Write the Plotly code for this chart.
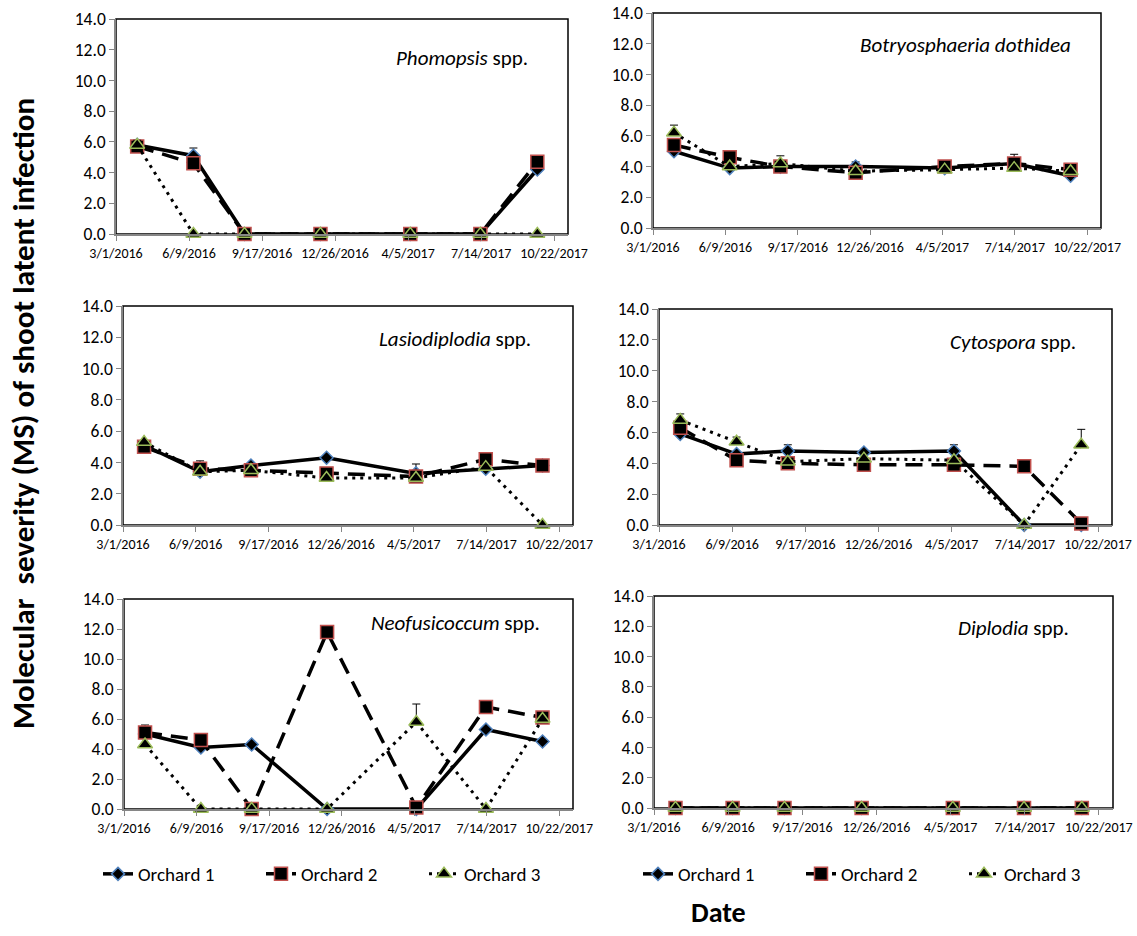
import plotly.graph_objects as go

# ---------------- data ----------------
sample_dates = ["2016-03-30", "2016-06-15", "2016-08-24", "2016-12-06",
                "2017-04-08", "2017-07-13", "2017-09-29"]
tick_start = "2016-03-01"
axis_end = "2017-11-10"
y_tick_values = [0, 2, 4, 6, 8, 10, 12, 14]
series_names = ["Orchard 1", "Orchard 2", "Orchard 3"]
panel_labels = ["<i>Phomopsis</i> spp.", "<i>Botryosphaeria dothidea</i>",
                "<i>Lasiodiplodia</i> spp.", "<i>Cytospora</i> spp.",
                "<i>Neofusicoccum</i> spp.", "<i>Diplodia</i> spp."]

phomopsis_o1 = [5.8, 5.1, 0.0, 0.0, 0.0, 0.0, 4.2]
phomopsis_o2 = [5.7, 4.6, 0.0, 0.0, 0.0, 0.0, 4.7]
phomopsis_o3 = [5.8, 0.0, 0.0, 0.0, 0.0, 0.0, 0.0]
phomopsis_o1_err = [0.3, 0.5, None, None, None, None, None]
phomopsis_o2_err = [None, None, None, None, None, None, None]
phomopsis_o3_err = [0.3, None, None, None, None, None, None]

botryo_o1 = [5.0, 3.9, 4.0, 4.0, 3.9, 4.2, 3.4]
botryo_o2 = [5.4, 4.6, 4.0, 3.6, 4.0, 4.2, 3.8]
botryo_o3 = [6.2, 4.0, 4.2, 3.7, 3.8, 3.9, 3.7]
botryo_o1_err = [None, None, None, 0.3, None, None, None]
botryo_o2_err = [None, None, None, None, None, 0.6, None]
botryo_o3_err = [0.5, None, 0.5, None, None, None, None]

lasio_o1 = [5.1, 3.4, 3.8, 4.3, 3.3, 3.6, 3.8]
lasio_o2 = [5.0, 3.6, 3.5, 3.3, 3.1, 4.2, 3.8]
lasio_o3 = [5.3, 3.4, 3.5, 3.0, 3.0, 3.7, 0.0]
lasio_o1_err = [None, None, None, None, 0.6, None, None]
lasio_o2_err = [0.3, 0.5, None, None, None, None, None]
lasio_o3_err = [None, None, None, None, None, None, None]

cyto_o1 = [5.9, 4.6, 4.8, 4.7, 4.8, 0.0, 0.0]
cyto_o2 = [6.3, 4.2, 4.0, 3.9, 3.9, 3.8, 0.1]
cyto_o3 = [6.8, 5.4, 4.1, 4.3, 4.2, 0.0, 5.2]
cyto_o1_err = [None, None, 0.4, None, 0.4, None, None]
cyto_o2_err = [None, None, None, None, None, None, None]
cyto_o3_err = [0.4, 0.3, None, None, None, None, 1.0]

neo_o1 = [5.0, 4.1, 4.3, 0.0, 0.0, 5.3, 4.5]
neo_o2 = [5.1, 4.6, 0.0, 11.8, 0.1, 6.8, 6.1]
neo_o3 = [4.3, 0.0, 0.0, 0.0, 5.8, 0.0, 6.0]
neo_o1_err = [0.6, None, None, None, None, None, None]
neo_o2_err = [None, None, None, None, None, None, None]
neo_o3_err = [None, None, None, None, 1.2, None, None]

diplodia_o1 = [0.0, 0.0, 0.0, 0.0, 0.0, 0.0, 0.0]
diplodia_o2 = [0.0, 0.0, 0.0, 0.0, 0.0, 0.0, 0.0]
diplodia_o3 = [0.0, 0.0, 0.0, 0.0, 0.0, 0.0, 0.0]
diplodia_err = [None, None, None, None, None, None, None]

panel_series = [
    [(phomopsis_o1, phomopsis_o1_err), (phomopsis_o2, phomopsis_o2_err), (phomopsis_o3, phomopsis_o3_err)],
    [(botryo_o1, botryo_o1_err), (botryo_o2, botryo_o2_err), (botryo_o3, botryo_o3_err)],
    [(lasio_o1, lasio_o1_err), (lasio_o2, lasio_o2_err), (lasio_o3, lasio_o3_err)],
    [(cyto_o1, cyto_o1_err), (cyto_o2, cyto_o2_err), (cyto_o3, cyto_o3_err)],
    [(neo_o1, neo_o1_err), (neo_o2, neo_o2_err), (neo_o3, neo_o3_err)],
    [(diplodia_o1, diplodia_err), (diplodia_o2, diplodia_err), (diplodia_o3, diplodia_err)],
]

# ---------------- layout / style ----------------
W, H = 1137, 936
FONT = "Carlito, Lato, 'Liberation Sans', sans-serif"
# plot-area boxes in pixels: (left, right, top, bottom)
panel_px = [(116, 568, 19, 234), (653, 1101, 13, 228),
            (123, 573, 306, 525), (659, 1112, 309, 525),
            (124, 573, 599, 809), (654, 1113, 596, 808)]
label_px = [(530, 58), (1073, 45), (533, 339), (1078, 342), (542, 623), (1071, 628)]

styles = [
    dict(line=dict(color="black", width=3.5, dash="solid"),
         marker=dict(symbol="diamond", size=10, color="black",
                     line=dict(color="#4F81BD", width=1.5))),
    dict(line=dict(color="black", width=3.5, dash="17px,9px"),
         marker=dict(symbol="square", size=13, color="black",
                     line=dict(color="#C0504D", width=1.5))),
    dict(line=dict(color="black", width=3, dash="3px,5px"),
         marker=dict(symbol="triangle-up", size=13, color="black",
                     line=dict(color="#9BBB59", width=1.5))),
]

fig = go.Figure()
for p, series in enumerate(panel_series):
    n = "" if p == 0 else str(p + 1)
    for s, (vals, errs) in enumerate(series):
        legend_name = None
        show = False
        if p == 4:
            show, legend_name = True, "legend"
        elif p == 5:
            show, legend_name = True, "legend2"
        tr = go.Scatter(
            x=sample_dates, y=vals, mode="lines+markers", name=series_names[s],
            xaxis="x" + n, yaxis="y" + n, showlegend=show, cliponaxis=False,
            line=styles[s]["line"], marker=styles[s]["marker"],
            error_y=dict(type="data", symmetric=False, array=errs,
                         arrayminus=[0] * len(vals), color="black",
                         thickness=1, width=4),
        )
        if legend_name:
            tr.legend = legend_name
        fig.add_trace(tr)

layout = dict(width=W, height=H, autosize=False,
              margin=dict(l=0, r=0, t=0, b=0, autoexpand=False),
              paper_bgcolor="white", plot_bgcolor="white",
              font=dict(family=FONT, color="black"))
shapes = []
annotations = []
for p, (x0, x1, y0, y1) in enumerate(panel_px):
    n = "" if p == 0 else str(p + 1)
    layout["xaxis" + n] = dict(
        type="date", domain=[x0 / W, x1 / W], anchor="y" + n,
        range=[tick_start, axis_end], tick0=tick_start, dtick=100 * 86400000,
        tickformat="%-m/%-d/%Y", tickangle=0, automargin=False,
        showgrid=False, zeroline=False,
        showline=True, linecolor="#868686", linewidth=1.5,
        ticks="outside", ticklen=5, tickcolor="#868686",
        tickfont=dict(size=14, family=FONT, color="black"))
    layout["yaxis" + n] = dict(
        domain=[1 - y1 / H, 1 - y0 / H], anchor="x" + n, automargin=False,
        range=[0, 14], tickvals=y_tick_values, tickformat=".1f",
        showgrid=False, zeroline=False,
        showline=True, linecolor="#868686", linewidth=1.5,
        ticks="outside", ticklen=5, tickcolor="#868686",
        tickfont=dict(size=17.5, family=FONT, color="black"))
    shapes.append(dict(type="rect", xref="x" + n + " domain", yref="y" + n + " domain",
                       x0=0, x1=1, y0=0, y1=1, layer="below",
                       line=dict(color="black", width=1.5)))
    lx, ly = label_px[p]
    annotations.append(dict(text=panel_labels[p], xref="paper", yref="paper",
                            x=lx / W, y=1 - ly / H, xanchor="right", yanchor="middle",
                            showarrow=False, font=dict(size=21, family=FONT, color="black")))

annotations.append(dict(text="<b>Molecular  severity (MS) of shoot latent infection</b>",
                        xref="paper", yref="paper", x=23 / W, y=1 - 414 / H,
                        textangle=-90, showarrow=False, xanchor="center", yanchor="middle",
                        font=dict(size=31, family=FONT, color="black")))
annotations.append(dict(text="<b>Date</b>", xref="paper", yref="paper",
                        x=718 / W, y=1 - 912 / H, showarrow=False,
                        xanchor="center", yanchor="middle",
                        font=dict(size=28, family=FONT, color="black")))

layout["shapes"] = shapes
layout["annotations"] = annotations
layout["legend"] = dict(orientation="h", x=98 / W, y=1 - 874 / H, xanchor="left",
                        yanchor="middle", font=dict(size=19, family=FONT, color="black"),
                        bgcolor="rgba(0,0,0,0)", entrywidth=118, entrywidthmode="pixels")
layout["legend2"] = dict(orientation="h", x=638 / W, y=1 - 874 / H, xanchor="left",
                         yanchor="middle", font=dict(size=19, family=FONT, color="black"),
                         bgcolor="rgba(0,0,0,0)", entrywidth=118, entrywidthmode="pixels")
fig.update_layout(**layout)

fig.write_html("out.html", config={"displayModeBar": False},
               post_script="document.body.style.margin='0';")
